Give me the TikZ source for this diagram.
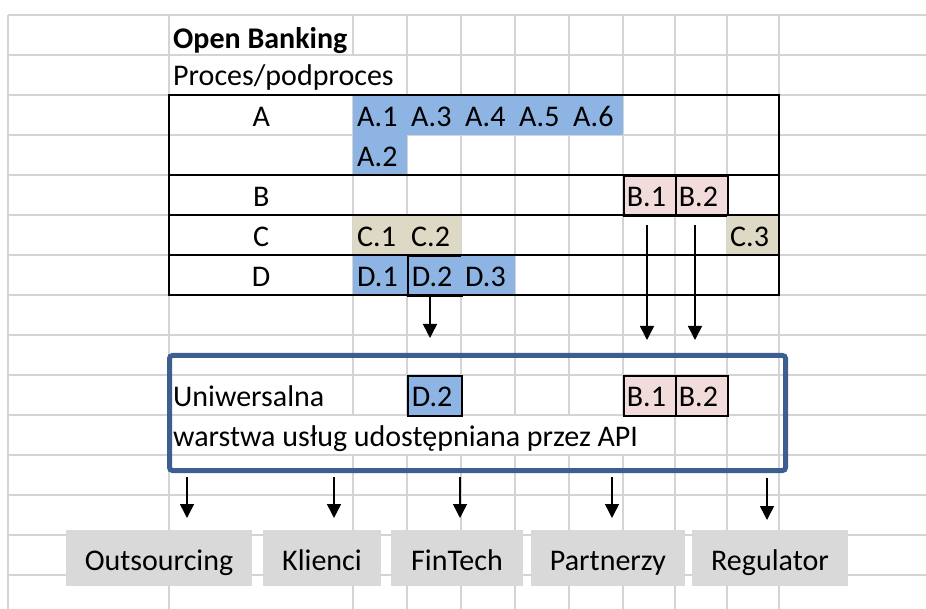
\documentclass[tikz,border=0pt]{standalone}
\usepackage{fontspec}
\setmainfont{Carlito}
\usepackage{xcolor}
\usetikzlibrary{arrows.meta}

\definecolor{gridgray}{HTML}{D4D4D4}
\definecolor{cellblue}{HTML}{8DB4E2}
\definecolor{cellpink}{HTML}{F2DCDB}
\definecolor{celltan}{HTML}{DDD9C4}
\definecolor{boxgray}{HTML}{D9D9D9}
\definecolor{layerblue}{HTML}{3C5F8F}

\tikzset{
  gridline/.style={gridgray, line width=1.3pt},
  frame/.style={black, line width=2pt},
  plain/.style={anchor=base west, inner sep=0pt},
  rowhead/.style={anchor=north west, inner sep=0pt, minimum width=184pt, minimum height=40pt, text height=24pt, text depth=2pt},
  cell/.style={anchor=north west, inner xsep=3pt, inner ysep=0pt, text width=46pt, align=left, minimum width=#1, minimum height=40pt, text height=24pt, text depth=2pt},
  cell/.default=54pt,
  bluecell/.style={cell, fill=cellblue},
  tancell/.style={cell, fill=celltan},
  pinkcell/.style={cell=52pt, fill=cellpink, draw=black, line width=1.8pt},
  layer/.style={draw=layerblue, line width=5pt, rounded corners=3pt, inner sep=0pt, anchor=north west},
  target/.style={fill=boxgray, inner sep=0pt, minimum height=56pt, text height=26pt, text depth=2pt},
  flow/.style={-{Triangle[width=14pt,length=14pt]}, line width=1.5pt}
}

\begin{document}
\begin{tikzpicture}[x=1pt, y=-1pt, font=\fontsize{30}{36}\selectfont]
\useasboundingbox (0,0) rectangle (926,609);

% sheet grid
\foreach \y in {15,55,...,575} \draw[gridline] (8,\y) -- (926,\y);
\foreach \x in {8,169,353,407,461,515,569,623,675,727,779} \draw[gridline] (\x,15) -- (\x,609);

% overflowing texts hide the grid
\fill[white] (170,56) rectangle (406,94);
\fill[white] (170,416) rectangle (674,454);

\node[plain, font=\fontsize{30}{36}\selectfont\bfseries] (title) at (173,49) {Open Banking};
\node[plain] (proc) at (173,86) {Proces/podproces};

% process table
\node[rowhead] (rowA) at (169,95) {A};
\node[rowhead] (rowB) at (169,175) {B};
\node[rowhead] (rowC) at (169,215) {C};
\node[rowhead] (rowD) at (169,255) {D};

\node[bluecell] (a1) at (353,95) {A.1};
\node[bluecell] (a3) at (407,95) {A.3};
\node[bluecell] (a4) at (461,95) {A.4};
\node[bluecell] (a5) at (515,95) {A.5};
\node[bluecell] (a6) at (569,95) {A.6};
\node[bluecell] (a2) at (353,135) {A.2};

\node[pinkcell] (b1) at (623,175) {B.1};
\node[pinkcell] (b2) at (675,175) {B.2};

\node[tancell] (c1) at (353,215) {C.1};
\node[tancell] (c2) at (407,215) {C.2};
\node[tancell, minimum width=52pt] (c3) at (727,215) {C.3};

\node[bluecell] (d1) at (353,255) {D.1};
\node[bluecell, draw=black, line width=1.8pt] (d2) at (407,255) {D.2};
\node[bluecell] (d3) at (461,255) {D.3};

\draw[frame] (169,95) rectangle (779,295);
\draw[frame] (169,175) -- (779,175);
\draw[frame] (169,215) -- (779,215);
\draw[frame] (169,255) -- (779,255);

% API layer
\node[layer, minimum width=616pt, minimum height=115pt] (api) at (167,353) {};
\node[plain] (uni) at (173,406) {Uniwersalna};
\node[plain] (warstwa) at (173,446) {warstwa usług udostępniana przez API};
\node[bluecell, draw=black, line width=1.8pt] (apiD2) at (407,375) {D.2};
\node[pinkcell] (apiB1) at (623,375) {B.1};
\node[pinkcell] (apiB2) at (675,375) {B.2};

% recipients
\node[target, minimum width=186pt] (out) at (159,558) {Outsourcing};
\node[target, minimum width=118pt] (kli) at (322,558) {Klienci};
\node[target, minimum width=132pt] (fin) at (457,558) {FinTech};
\node[target, minimum width=154pt] (par) at (608,558) {Partnerzy};
\node[target, minimum width=156pt] (reg) at (770,558) {Regulator};

% arrows
\coordinate (fromD2) at (430,297);
\coordinate (toD2) at (430,338);
\coordinate (fromB1) at (647,225);
\coordinate (toB1) at (647,340);
\coordinate (fromB2) at (695,225);
\coordinate (toB2) at (695,340);
\draw[flow] (fromD2) -- (toD2);
\draw[flow] (fromB1) -- (toB1);
\draw[flow] (fromB2) -- (toB2);

\coordinate (toOut) at (187,518);
\coordinate (toKli) at (334,518);
\coordinate (toFin) at (460,518);
\coordinate (toPar) at (612,518);
\coordinate (toReg) at (767,520);
\draw[flow] (toOut |- 0,477) -- (toOut);
\draw[flow] (toKli |- 0,477) -- (toKli);
\draw[flow] (toFin |- 0,477) -- (toFin);
\draw[flow] (toPar |- 0,477) -- (toPar);
\draw[flow] (toReg |- 0,478) -- (toReg);

\end{tikzpicture}
\end{document}
